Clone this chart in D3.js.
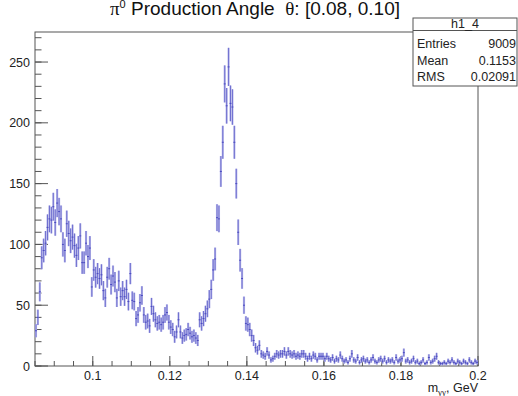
<!DOCTYPE html>
<html>
<head>
<meta charset="utf-8">
<script src="https://cdn.jsdelivr.net/npm/d3@7"></script>
<style>
  body { margin: 0; background: #fff; }
  svg { display: block; font-family: "Liberation Sans", Arial, sans-serif; }
</style>
</head>
<body>
<div id="chart"></div>
<script>
// histogram h1_4: bins of 0.0005 GeV starting at 0.085
const binStart = 0.085;
const binWidth = 0.0005;
const counts = [
  29, 40, 61, 89, 95, 101, 114, 121, 120, 131,
  118, 134, 127, 121, 100, 95, 117, 109, 103, 106,
  99, 91, 97, 107, 85, 85, 101, 90, 97, 65,
  79, 73, 76, 72, 75, 62, 56, 73, 80, 67,
  74, 69, 56, 70, 57, 62, 57, 63, 53, 76,
  54, 53, 39, 42, 52, 58, 42, 36, 37, 33,
  49, 43, 38, 35, 36, 34, 36, 42, 44, 36,
  32, 30, 24, 28, 38, 28, 23, 25, 26, 30,
  27, 24, 25, 23, 21, 38, 35, 39, 43, 47,
  55, 63, 79, 88, 122, 121, 160, 184, 232, 214,
  246, 216, 213, 184, 150, 110, 87, 72, 50, 35,
  34, 30, 25, 21, 15, 13, 17, 10, 9, 8,
  12, 9, 5, 6, 8, 10, 9, 10, 10, 12,
  9, 12, 10, 9, 10, 8, 9, 8, 10, 10,
  8, 6, 8, 6, 9, 8, 5, 8, 8, 8,
  6, 8, 6, 5, 7, 4, 6, 5, 9, 6,
  4, 5, 3, 6, 10, 5, 4, 7, 3, 5,
  6, 4, 5, 3, 5, 7, 4, 3, 5, 6,
  4, 6, 3, 5, 4, 5, 3, 7, 4, 5,
  6, 11, 4, 5, 3, 4, 6, 3, 4, 2,
  3, 5, 2, 3, 7, 3, 4, 6, 8, 3,
  2, 2, 3, 2, 4, 3, 5, 3, 2, 4,
  3, 2, 4, 3, 2, 5, 3, 2, 4, 3
];
const xMajor = [0.1, 0.12, 0.14, 0.16, 0.18, 0.2];
const xMajorLabels = ['0.1', '0.12', '0.14', '0.16', '0.18', '0.2'];
const yMajor = [0, 50, 100, 150, 200, 250];
const statsLabels = ['Entries', 'Mean', 'RMS'];
const statsValues = ['9009', '0.1153', '0.02091'];

const W = 518, H = 396;
const plot = { left: 35, right: 478, top: 32, bottom: 366 };

const svg = d3.select('#chart').append('svg')
  .attr('width', W)
  .attr('height', H);

svg.append('rect').attr('width', W).attr('height', H).attr('fill', '#fff');

const x = d3.scaleLinear().domain([0.085, 0.2]).range([plot.left, plot.right]);
const y = d3.scaleLinear().domain([0, 274.7]).range([plot.bottom, plot.top]);

const bins = counts.map((c, i) => ({
  lo: binStart + i * binWidth,
  hi: binStart + (i + 1) * binWidth,
  c: c,
  e: Math.sqrt(c)
}));

// minor ticks
const xMinor = d3.range(0.085, 0.2001, 0.005);
const yMinor = d3.range(0, 271, 10);
const axisCol = '#555';

const g = svg.append('g');

g.selectAll('.xminor').data(xMinor).enter().append('line')
  .attr('x1', d => x(d)).attr('x2', d => x(d))
  .attr('y1', plot.bottom).attr('y2', plot.bottom - 5)
  .attr('stroke', axisCol).attr('stroke-width', 1);
g.selectAll('.xmajor').data(xMajor).enter().append('line')
  .attr('x1', d => x(d)).attr('x2', d => x(d))
  .attr('y1', plot.bottom).attr('y2', plot.bottom - 10)
  .attr('stroke', axisCol).attr('stroke-width', 1);
g.selectAll('.yminor').data(yMinor).enter().append('line')
  .attr('y1', d => y(d)).attr('y2', d => y(d))
  .attr('x1', plot.left).attr('x2', plot.left + 6.5)
  .attr('stroke', axisCol).attr('stroke-width', 1);
g.selectAll('.ymajor').data(yMajor).enter().append('line')
  .attr('y1', d => y(d)).attr('y2', d => y(d))
  .attr('x1', plot.left).attr('x2', plot.left + 13)
  .attr('stroke', axisCol).attr('stroke-width', 1);

// frame
svg.append('rect')
  .attr('x', plot.left).attr('y', plot.top)
  .attr('width', plot.right - plot.left).attr('height', plot.bottom - plot.top)
  .attr('fill', 'none').attr('stroke', axisCol).attr('stroke-width', 1);

// error bars
const eb = svg.append('g');
eb.selectAll('.halo').data(bins).enter().append('line')
  .attr('x1', d => x((d.lo + d.hi) / 2)).attr('x2', d => x((d.lo + d.hi) / 2))
  .attr('y1', d => y(Math.max(0, d.c - d.e))).attr('y2', d => y(d.c + d.e))
  .attr('stroke', '#bdbdec').attr('stroke-width', 2.2);
eb.selectAll('.err').data(bins).enter().append('line')
  .attr('x1', d => x((d.lo + d.hi) / 2)).attr('x2', d => x((d.lo + d.hi) / 2))
  .attr('y1', d => y(Math.max(0, d.c - d.e))).attr('y2', d => y(d.c + d.e))
  .attr('stroke', '#5a5ac8').attr('stroke-width', 0.8);
eb.selectAll('.hbar').data(bins).enter().append('line')
  .attr('x1', d => x(d.lo)).attr('x2', d => x(d.hi))
  .attr('y1', d => y(d.c)).attr('y2', d => y(d.c))
  .attr('stroke', '#4a4ac0').attr('stroke-width', 1);

// tick labels
svg.selectAll('.xlab').data(xMajor).enter().append('text')
  .attr('x', d => x(d)).attr('y', 379.5)
  .attr('text-anchor', 'middle').attr('font-size', 12.5).attr('fill', '#222')
  .text((d, i) => xMajorLabels[i]);
svg.selectAll('.ylab').data(yMajor).enter().append('text')
  .attr('x', 30).attr('y', d => y(d) + 4.5)
  .attr('text-anchor', 'end').attr('font-size', 12.5).attr('fill', '#222')
  .text(d => d);

// axis title
const xt = svg.append('text')
  .attr('x', plot.right).attr('y', 392)
  .attr('text-anchor', 'end').attr('font-size', 12.5).attr('fill', '#222');
xt.append('tspan').text('m');
xt.append('tspan').attr('font-size', 9).attr('dy', 3).attr('font-family', 'Liberation Serif').text('γγ');
xt.append('tspan').attr('dy', -3).text(', GeV');

// title
const tt = svg.append('text')
  .attr('x', 255).attr('y', 15)
  .attr('text-anchor', 'middle').attr('font-size', 19).attr('fill', '#111');
tt.append('tspan').attr('font-family', 'Liberation Serif').text('π');
tt.append('tspan').attr('font-size', 11).attr('dy', -7).text('0');
tt.append('tspan').attr('dy', 7).text('\u00a0Production Angle\u00a0\u00a0');
tt.append('tspan').attr('font-family', 'Liberation Serif').text('θ');
tt.append('tspan').text(': [0.08, 0.10]');

// stats box
const sb = { x: 413, y: 18, w: 104, h: 68 };
svg.append('rect')
  .attr('x', sb.x).attr('y', sb.y).attr('width', sb.w).attr('height', sb.h)
  .attr('fill', '#fff').attr('stroke', axisCol).attr('stroke-width', 1);
svg.append('line')
  .attr('x1', sb.x).attr('x2', sb.x + sb.w).attr('y1', 30.5).attr('y2', 30.5)
  .attr('stroke', axisCol).attr('stroke-width', 1);
svg.append('text')
  .attr('x', sb.x + sb.w / 2).attr('y', 28)
  .attr('text-anchor', 'middle').attr('font-size', 12.5).attr('fill', '#222')
  .text('h1_4');
const rowY = [48, 64.5, 81];
svg.selectAll('.slab').data(statsLabels).enter().append('text')
  .attr('x', sb.x + 4).attr('y', (d, i) => rowY[i])
  .attr('font-size', 12.5).attr('fill', '#222').text(d => d);
svg.selectAll('.sval').data(statsValues).enter().append('text')
  .attr('x', sb.x + sb.w - 1).attr('y', (d, i) => rowY[i])
  .attr('text-anchor', 'end').attr('font-size', 12.5).attr('fill', '#222').text(d => d);
</script>
</body>
</html>
